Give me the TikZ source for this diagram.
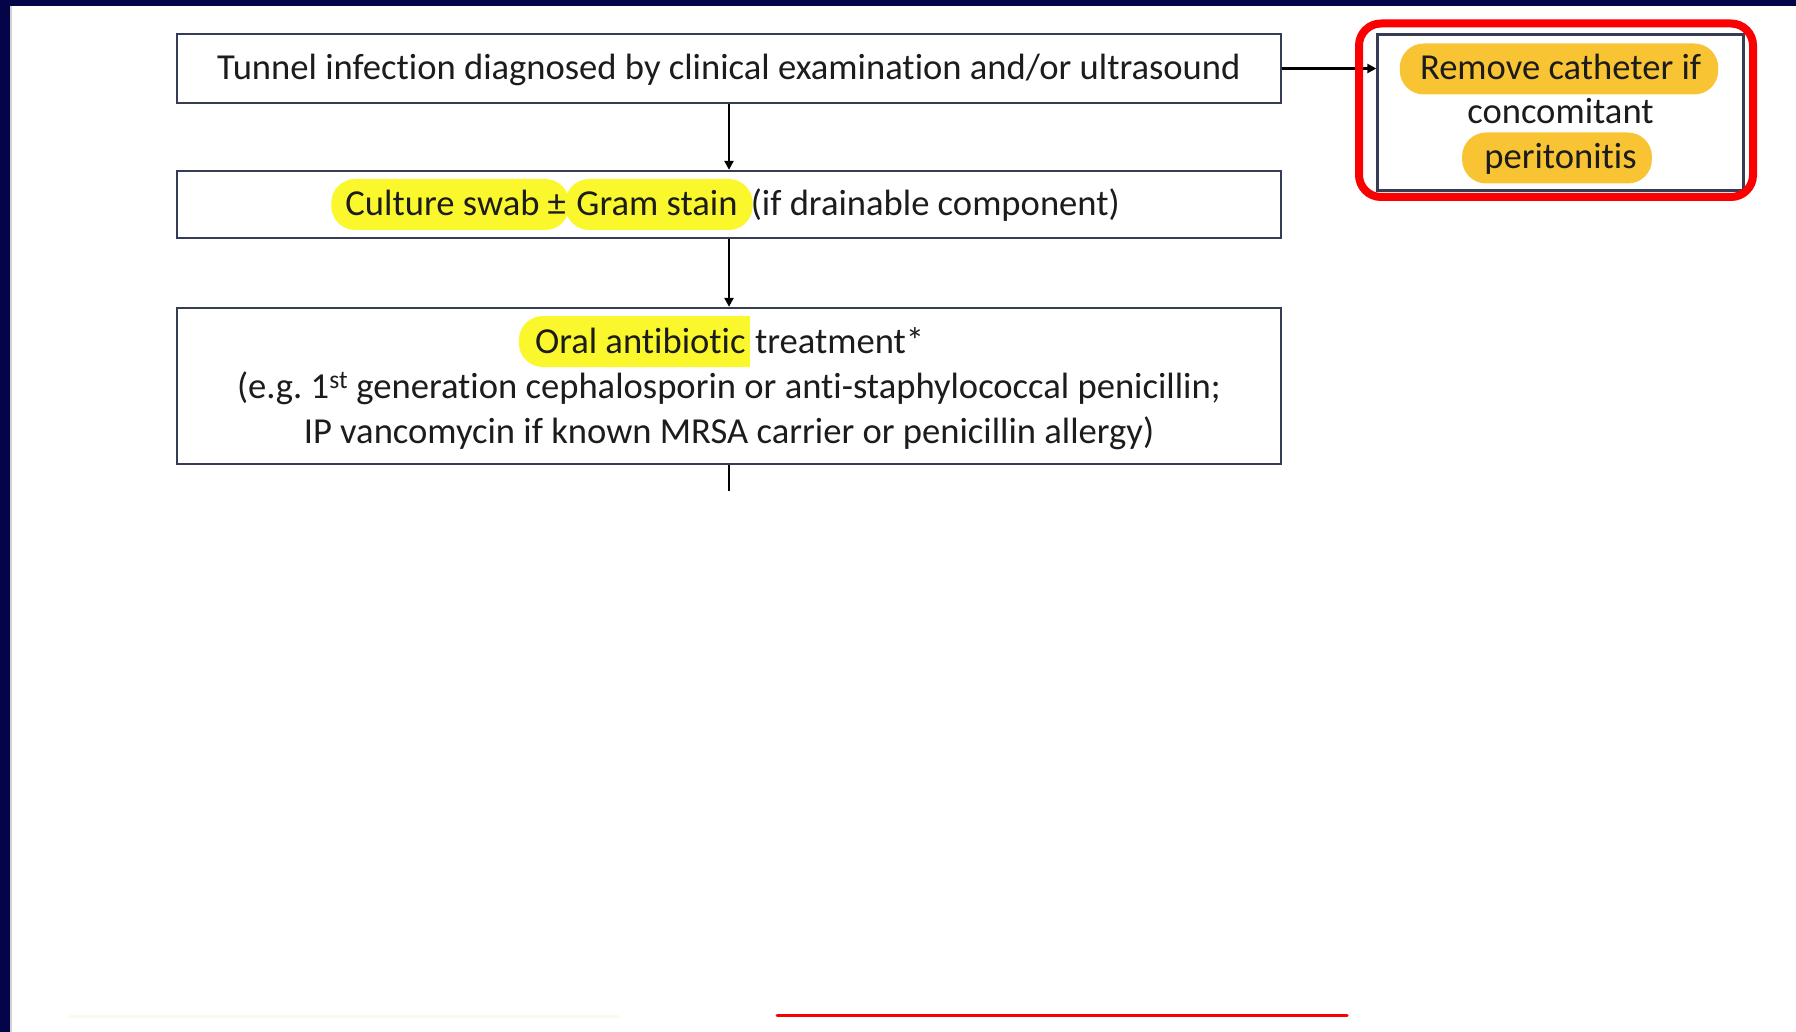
\documentclass[tikz,border=0pt]{standalone}
\usepackage{fontspec}
\setmainfont{Carlito}[Ligatures=NoCommon]
\usetikzlibrary{arrows.meta,backgrounds}
\frenchspacing

\definecolor{navyband}{RGB}{4,4,72}
\definecolor{boxline}{RGB}{55,60,85}
\definecolor{hlyellow}{RGB}{250,248,45}
\definecolor{hlgold}{RGB}{248,196,52}
\definecolor{inkc}{RGB}{28,28,28}
\definecolor{alertred}{RGB}{250,0,0}
\definecolor{fainttrace}{RGB}{250,250,236}

\begin{document}
\begin{tikzpicture}[x=1pt,y=-1pt,
  flowbox/.style={draw=boxline, line width=2.3pt, minimum width=1104pt, inner sep=0},
  txt/.style={inner sep=0, anchor=base, text=inkc, font=\fontsize{36.6}{45}\selectfont},
  piece/.style={txt, anchor=base west},
  link/.style={line width=2.8pt, black},
  arrowed/.style={-{Triangle[length=9pt,width=9pt]}}
]
\useasboundingbox (0,0) rectangle (1796,1032);

% page and frame bands
\begin{scope}[on background layer]
  \fill[white] (0,0) rectangle (1796,1032);
  \fill[navyband] (0,0) rectangle (1796,6);
  \fill[navyband] (0,0) rectangle (10,1032);
  \fill[gray!35] (10,6) rectangle (12,1032);
\end{scope}

% flow boxes
\node[flowbox, minimum height=69pt]  (b1) at (729,68.5) {};
\node[flowbox, minimum height=67pt]  (b2) at (729,204.5) {};
\node[flowbox, minimum height=156pt] (b3) at (729,386) {};
\node[flowbox, minimum width=366pt, minimum height=156pt] (rb) at (1560.5,112.5) {};

% box 1 text
\node[txt] (t1) at (729,80) {Tunnel infection diagnosed by clinical examination and/or ultrasound};

% box 2 text, built from pieces
\node[txt] (l2) at (729,216) {\phantom{Culture swab ± Gram stain (if drainable component)}};
\node[piece] (c1) at (l2.base west) {Culture swab ±};
\node[piece] (c2) at ([xshift=10pt]c1.base east) {Gram stain};
\node[piece] (c3) at ([xshift=13pt]c2.base east) {(if drainable component)};

% box 3 text
\node[txt] (l3a) at (729,353) {\phantom{Oral antibiotic treatment*}};
\node[piece] (o1) at (l3a.base west) {Oral antibiotic};
\node[piece] (o2) at ([xshift=9pt]o1.base east) {treatment*};
\node[txt] (l3b) at (729,398) {(e.g. 1\textsuperscript{st} generation cephalosporin or anti-staphylococcal penicillin;};
\node[txt] (l3c) at (729,443) {IP vancomycin if known MRSA carrier or penicillin allergy)};

% side box text
\node[txt] (r1) at (1560.5,79.5) {Remove catheter if};
\node[txt] (r2) at (1560.5,124) {concomitant};
\node[txt] (r3) at (1560.5,168.5) {peritonitis};

% highlights behind the words
\begin{scope}[on background layer]
  \fill[hlyellow, rounded corners=24pt]
    ([xshift=-14pt,yshift=37pt]c1.base west) rectangle ([xshift=3pt,yshift=-14pt]c1.base east);
  \fill[hlyellow, rounded corners=24pt]
    ([xshift=-11pt,yshift=37pt]c2.base west) rectangle ([xshift=15pt,yshift=-14pt]c2.base east);
  \fill[hlyellow]
    ([xshift=4pt,yshift=37pt]o1.base east) [rounded corners=24pt]
    -- ([xshift=-16pt,yshift=37pt]o1.base west)
    -- ([xshift=-16pt,yshift=-14pt]o1.base west) [sharp corners]
    -- ([xshift=4pt,yshift=-14pt]o1.base east) -- cycle;
  \fill[hlgold, rounded corners=24pt]
    ([xshift=-20pt,yshift=36pt]r1.base west) rectangle ([xshift=17pt,yshift=-15pt]r1.base east);
  \fill[hlgold, rounded corners=24pt]
    ([xshift=-22pt,yshift=36pt]r3.base west) rectangle ([xshift=15pt,yshift=-15pt]r3.base east);
\end{scope}

% connectors
\draw[link, arrowed] (b1) -- (b2);
\draw[link, arrowed] (b2) -- (b3);
\draw[link, arrowed] (b1.east) -- (b1.east -| rb.west);
\coordinate (tail) at ([yshift=-26pt]b3.south);
\draw[link] (b3.south) -- (tail);

% red emphasis frame around the side box
\draw[alertred, line width=8pt, rounded corners=22pt] (1359,23.5) rectangle (1753,197);

% traces along the bottom edge
\draw[fainttrace, line width=3pt] (69,1016) -- (619,1016);
\draw[alertred, line width=3pt, line cap=round] (777,1015) -- (1347,1015);
\end{tikzpicture}
\end{document}
